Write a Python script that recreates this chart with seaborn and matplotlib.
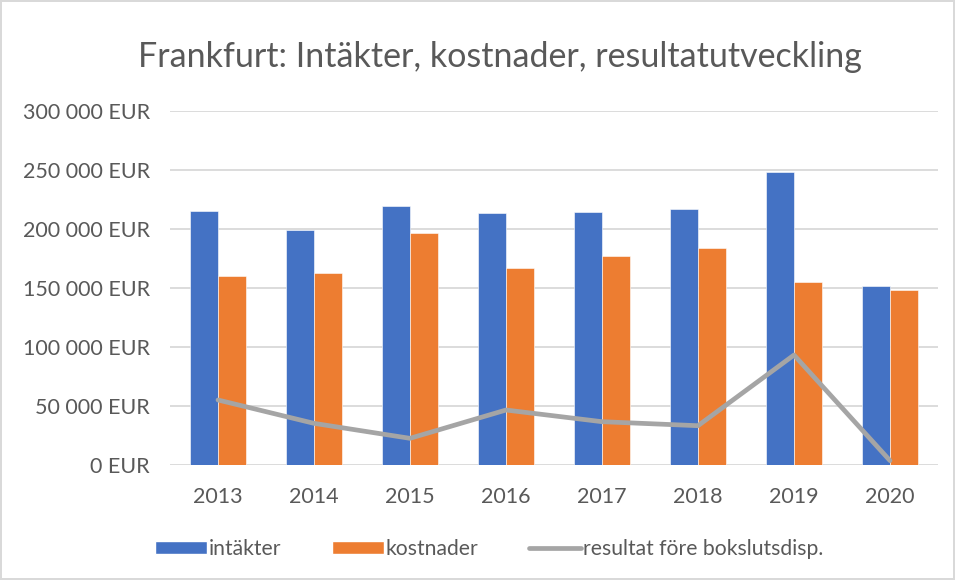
import numpy as np
import pandas as pd
import matplotlib.pyplot as plt
from matplotlib.patches import Patch
from matplotlib.lines import Line2D
from matplotlib.ticker import FuncFormatter
import seaborn as sns

# -----------------------------
# Data
# -----------------------------
years = ["2013", "2014", "2015", "2016", "2017", "2018", "2019", "2020"]
intakter = [215300, 198900, 219500, 213600, 214100, 217200, 248300, 152000]
kostnader = [160200, 162700, 196600, 166700, 177100, 183900, 155100, 148300]
resultat = [55100, 35300, 22600, 46600, 36700, 33300, 93200, 3700]

series_names = ["intäkter", "kostnader", "resultat före bokslutsdisp."]
colors = ["#4472C4", "#ED7D31", "#A5A5A5"]
text_color = "#595959"

df = pd.DataFrame({
    "year": years * 2,
    "value": intakter + kostnader,
    "serie": [series_names[0]] * len(years) + [series_names[1]] * len(years)
})

# -----------------------------
# Style
# -----------------------------
sns.set_theme(style="white")
plt.rcParams["font.family"] = ["Lato", "DejaVu Sans"]

fig = plt.figure(figsize=(9.55, 5.8), dpi=100)
fig.patch.set_edgecolor("#D9D9D9")
fig.patch.set_linewidth(1.5)
ax = fig.add_axes([170 / 955, 1 - 465 / 580, 768 / 955, 354 / 580])

# -----------------------------
# Bars + line
# -----------------------------
sns.barplot(
    data=df,
    x="year",
    y="value",
    hue="serie",
    palette=colors[:2],
    width=0.575,
    gap=0,
    saturation=1,
    edgecolor="white",
    linewidth=0.4,
    legend=False,
    ax=ax
)

sns.lineplot(
    x=np.arange(len(years)),
    y=resultat,
    color=colors[2],
    linewidth=3.4,
    ax=ax
)

# -----------------------------
# Axes
# -----------------------------
ax.set_ylim(0, 300000)
ax.set_xlim(-0.5, len(years) - 0.5)
ax.set_yticks(np.arange(0, 300001, 50000))
ax.yaxis.set_major_formatter(
    FuncFormatter(lambda v, p: f"{int(v):,}".replace(",", " ") + " EUR")
)
ax.yaxis.grid(True, color="#D9D9D9", linewidth=1.3)
ax.set_axisbelow(True)
for side in ["top", "right", "left", "bottom"]:
    ax.spines[side].set_visible(False)
ax.tick_params(axis="y", length=0, pad=14.5, labelsize=15.5, labelcolor=text_color)
ax.tick_params(axis="x", length=0, pad=16, labelsize=15.5, labelcolor=text_color)
ax.set_xlabel("")
ax.set_ylabel("")

fig.text(500 / 955, 1 - 57 / 580,
         "Frankfurt: Intäkter, kostnader, resultatutveckling",
         ha="center", va="center", fontsize=24.5, color=text_color)

handles = [
    Patch(facecolor=colors[0]),
    Patch(facecolor=colors[1]),
    Line2D([0], [0], color=colors[2], linewidth=3.4, solid_capstyle="round"),
]
fig.legend(
    handles, series_names,
    loc="center", bbox_to_anchor=(489 / 955, 1 - 549 / 580),
    ncol=3, frameon=False, fontsize=15.2, labelcolor=text_color,
    handlelength=2.45, handleheight=0.6, handletextpad=0.1, columnspacing=2.4
)

plt.savefig("out.png", dpi=100)
